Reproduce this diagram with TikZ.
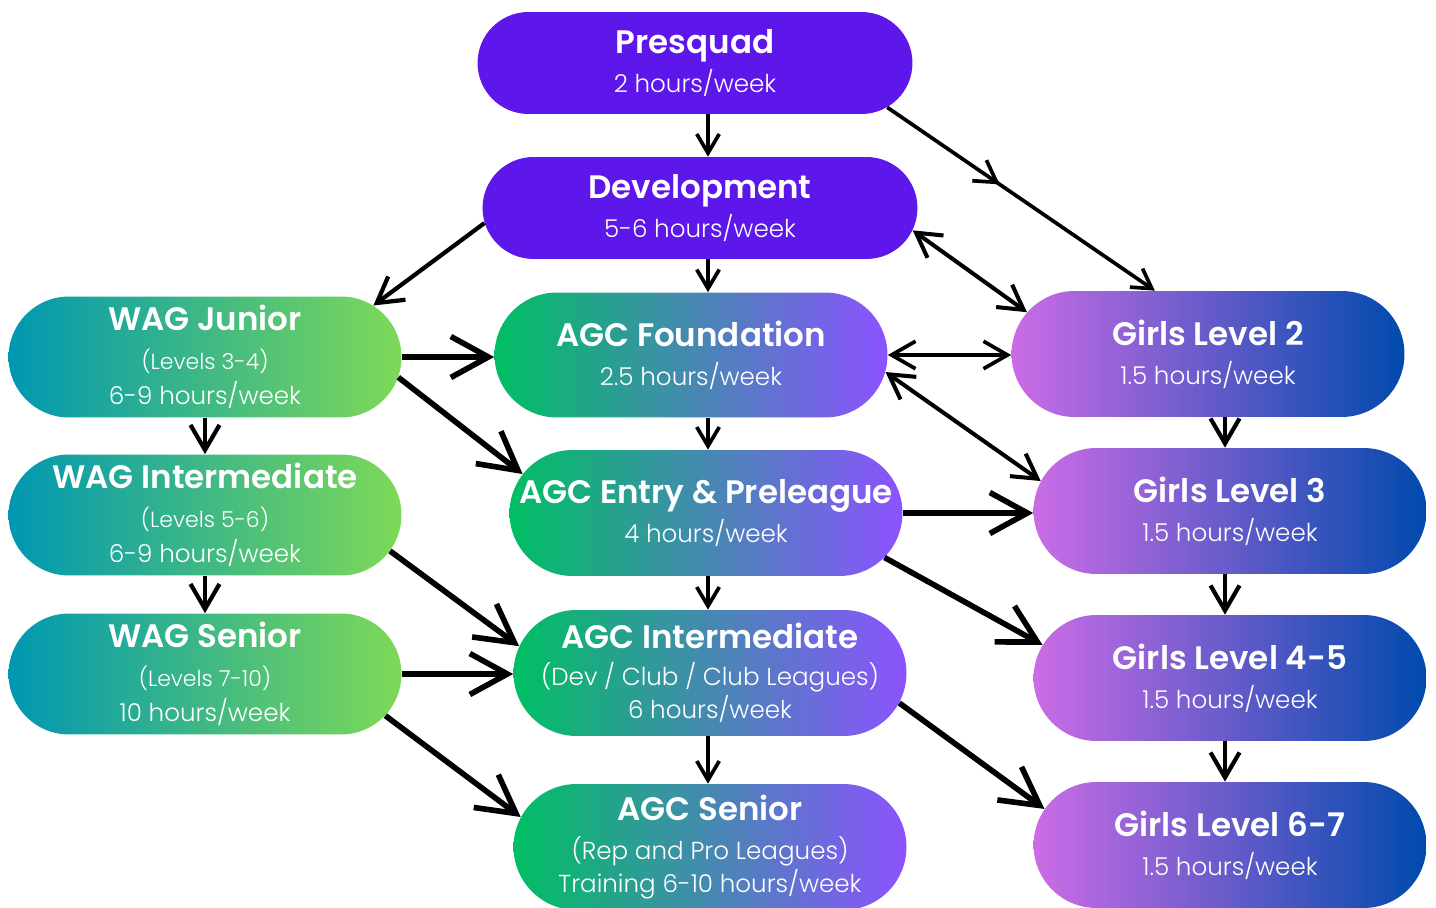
\documentclass[tikz,border=0pt]{standalone}
\usepackage{fontspec}
\setmainfont{Poppins}
\newfontfamily\lightfont{Poppins Light}
\usepackage{xcolor}
\usetikzlibrary{shapes.misc,positioning,calc,arrows.meta,decorations.markings}

\definecolor{presq}{HTML}{5E17EB}
\definecolor{wagL}{HTML}{0097B2}
\definecolor{wagR}{HTML}{7ED957}
\definecolor{agcL}{HTML}{00BF63}
\definecolor{agcR}{HTML}{8C52FF}
\definecolor{girlL}{HTML}{CB6CE6}
\definecolor{girlR}{HTML}{004AAD}

\newcommand{\boxtitle}[1]{{\fontsize{18.5}{22}\selectfont\bfseries #1}}
\newcommand{\boxnote}[1]{{\fontsize{12.5}{22}\selectfont #1}}

\tikzset{
    pill/.style={rounded rectangle, inner sep=0pt, text=white, align=center,
        font=\fontsize{14}{22}\selectfont\lightfont,
        minimum width=7.86cm, minimum height=2.52cm},
    purplepill/.style={pill, fill=presq, minimum width=8.7cm, minimum height=2.04cm},
    wagpill/.style={pill, left color=wagL, right color=wagR, minimum height=2.42cm},
    agcpill/.style={pill, left color=agcL, right color=agcR},
    girlpill/.style={pill, left color=girlL, right color=girlR},
    thinarr/.style={-{Straight Barb[length=0.38cm,width=0.45cm]}, line width=2.1pt},
    medarr/.style={-{Straight Barb[length=0.5cm,width=0.58cm]}, line width=2.4pt},
    dblarr/.style={{Straight Barb[length=0.48cm,width=0.55cm]}-{Straight Barb[length=0.48cm,width=0.55cm]}, line width=2.3pt},
    thickarr/.style={-{Straight Barb[length=0.75cm,width=0.82cm]}, line width=3.2pt},
}

\begin{document}
\begin{tikzpicture}[x=0.02cm, y=-0.02cm]
    \useasboundingbox (0,0) rectangle (1436,908);

    % centre column
    \node [purplepill] (pres) at (695,63) {\boxtitle{Presquad}\\2 hours/week};
    \node [purplepill] (dev) at (700,208) {\boxtitle{Development}\\5-6 hours/week};
    \node [agcpill, minimum height=2.5cm] (foun) at (691,355) {\boxtitle{AGC Foundation}\\2.5 hours/week};
    \node [agcpill] (entry) at (706,513) {\boxtitle{AGC Entry \& Preleague}\\4 hours/week};
    \node [agcpill] (agci) at (710,673) {\boxtitle{AGC Intermediate}\\[-1pt](Dev / Club / Club Leagues)\\[-3pt]6 hours/week};
    \node [agcpill] (agcs) at (710,847) {\boxtitle{AGC Senior}\\[0pt](Rep and Pro Leagues)\\[-3pt]Training 6-10 hours/week};

    % WAG column
    \node [wagpill] (wagj) at (205,357) {\boxtitle{WAG Junior}\\[0pt]\boxnote{(Levels 3-4)}\\[-2pt]6-9 hours/week};
    \node [wagpill] (wagi) at (205,515) {\boxtitle{WAG Intermediate}\\[0pt]\boxnote{(Levels 5-6)}\\[-2pt]6-9 hours/week};
    \node [wagpill] (wags) at (205,674) {\boxtitle{WAG Senior}\\[0pt]\boxnote{(Levels 7-10)}\\[-2pt]10 hours/week};

    % girls column
    \node [girlpill] (g2) at (1208,354) {\boxtitle{Girls Level 2}\\1.5 hours/week};
    \node [girlpill] (g3) at (1230,511) {\boxtitle{Girls Level 3}\\1.5 hours/week};
    \node [girlpill] (g45) at (1230,678) {\boxtitle{Girls Level 4-5}\\1.5 hours/week};
    \node [girlpill] (g67) at (1230,845) {\boxtitle{Girls Level 6-7}\\1.5 hours/week};

    \coordinate (mid) at (708,0);
    \coordinate (gcol) at (1225,0);

    % straight down
    \draw [thinarr] (pres.south -| mid) -- (dev.north -| mid);
    \draw [thinarr] (dev.south -| mid) -- (foun.north -| mid);
    \draw [thinarr] (foun.south -| mid) -- (entry.north -| mid);
    \draw [thinarr] (entry.south -| mid) -- (agci.north -| mid);
    \draw [thinarr] (agci.south -| mid) -- (agcs.north -| mid);
    \draw [medarr] (wagj.south) -- (wagi.north);
    \draw [medarr] (wagi.south) -- (wags.north);
    \draw [medarr] (g2.south -| gcol) -- (g3.north -| gcol);
    \draw [medarr] (g3.south -| gcol) -- (g45.north -| gcol);
    \draw [medarr] (g45.south -| gcol) -- (g67.north -| gcol);

    % across
    \draw [thinarr, postaction={decorate},
        decoration={markings, mark=at position 0.42 with {\arrow{Straight Barb[length=0.42cm,width=0.5cm]}}}]
        (pres.-13) -- (g2.130);
    \draw [medarr] (dev.184) -- (wagj.17);
    \draw [dblarr] (dev.-6) -- (g2.167);
    \draw [dblarr, line width=2.1pt] (foun.east) -- (foun.east -| g2.west);
    \draw [dblarr] (foun.-5) -- (g3.171);
    \draw [thickarr] (wagj.east) -- (wagj.east -| foun.west);
    \draw [thickarr] (wagj.-6) -- (entry.168);
    \draw [thickarr] (wagi.-11) -- (agci.172);
    \draw [thickarr] (wags.east) -- (wags.east -| agci.west);
    \draw [thickarr] (wags.-13) -- (agcs.171);
    \draw [thickarr] (entry.east) -- (entry.east -| g3.west);
    \draw [thickarr] (entry.-14) -- (g45.170);
    \draw [thickarr] (agci.-9) -- (g67.169);
\end{tikzpicture}
\end{document}
